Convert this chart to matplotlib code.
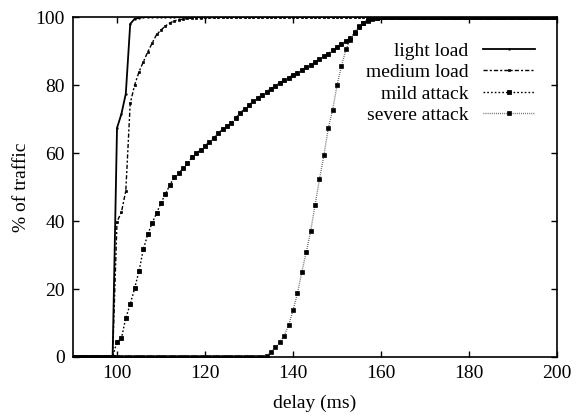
import matplotlib
matplotlib.use("Agg")
import matplotlib.pyplot as plt

# delay axis: one sample per ms
delay = list(range(90, 201))

light_load = [0.0] * 10 + [67.4, 71.5, 77.5, 98.0, 99.5, 99.8] + [100.0] * 95

medium_load = [0.0] * 10 + [
    39.8, 42.6, 48.9, 74.6, 80.0, 83.9, 86.9, 89.8, 92.4, 94.9,
    96.2, 97.4, 98.3, 98.9, 99.2, 99.4, 99.6, 99.7, 99.8, 99.8,
    99.9, 99.9, 99.9] + [100.0] * 78

mild_attack = [0.0] * 10 + [
    4.5, 5.5, 11.5, 15.5, 20.2, 25.3, 31.8, 36.1, 39.5, 42.3,
    45.4, 47.9, 50.6, 52.9, 54.0, 55.5, 57.0, 58.7, 59.9, 60.9,
    62.1, 63.3, 64.5, 65.8, 67.0, 67.9, 68.9, 70.4, 71.9, 72.9,
    74.1, 75.3, 76.2, 77.2, 78.0, 79.0, 79.8, 80.7, 81.5, 82.2,
    83.0, 83.7, 84.4, 85.2, 86.0, 86.8, 87.7, 88.5, 89.3, 90.2,
    91.2, 92.2, 93.0, 93.8, 95.3, 97.0, 98.3, 99.2, 99.6, 99.8] + [100.0] * 41

severe_attack = [0.0] * 44 + [
    0.4, 1.4, 2.8, 4.3, 6.3, 9.4, 13.8, 18.7, 25.1, 30.8,
    37.1, 44.7, 52.3, 59.3, 67.3, 72.8, 80.0, 85.7, 90.5, 93.4,
    95.5, 97.4, 98.3, 98.9, 99.4, 99.7, 99.9] + [100.0] * 40

plt.rcParams["font.family"] = ["Liberation Serif", "DejaVu Serif"]
plt.rcParams["font.size"] = 14

fig = plt.figure(figsize=(5.84, 4.18), dpi=100)
ax = fig.add_axes([0.125, 0.146, 0.829, 0.813])

ax.plot(delay, light_load, color="black", lw=1.3, ls="-",
        marker="s", ms=1.0, mew=0.4, label="light load")
ax.plot(delay, medium_load, color="black", lw=1.0, ls=(0, (3, 1.5, 1.5, 1.5)),
        marker="s", ms=1.9, mew=0.5, label="medium load")
ax.plot(delay, mild_attack, color="black", lw=1.0, ls=(0, (1.2, 1.5)),
        marker="s", ms=2.3, mew=0.6, label="mild attack")
ax.plot(delay, severe_attack, color="#555555", lw=1.0, ls=(0, (0.6, 0.9)),
        marker="s", ms=2.8, mew=0.5, mfc="black", mec="black", label="severe attack")

ax.set_xlim(90, 200)
ax.set_ylim(0, 100)
ax.set_xticks([100, 120, 140, 160, 180, 200])
ax.set_yticks([0, 20, 40, 60, 80, 100])
ax.tick_params(direction="in", top=True, right=True, length=4, width=1, pad=6)
for s in ax.spines.values():
    s.set_linewidth(1.2)

ax.set_xlabel("delay (ms)", labelpad=9)
ax.set_ylabel("% of traffic", labelpad=4)

ax.legend(loc="upper right", bbox_to_anchor=(0.975, 0.955), frameon=False,
          markerfirst=False, numpoints=1, handlelength=2.7, handletextpad=0.75,
          labelspacing=0.2, borderpad=0)

fig.savefig("out.png", dpi=100)
